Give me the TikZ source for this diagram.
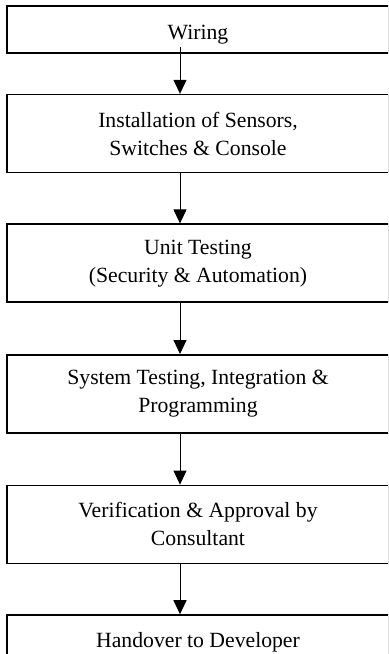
\documentclass[tikz,border=0pt]{standalone}
\usepackage{fontspec}
\setmainfont{Liberation Serif}
\usepackage{tikz}
\usetikzlibrary{arrows.meta, positioning}

\begin{document}
\begin{tikzpicture}[x=0.5pt, y=-0.5pt,
    stage/.style={draw, line width=0.8pt, minimum width=190.75pt, minimum height=23.5pt,
      align=center, font=\fontsize{10.85}{14}\selectfont,
      execute at begin node={\rule{0pt}{12pt}}},
    twoline/.style={stage, minimum height=39pt},
    flow/.style={line width=0.5pt, -{Triangle[width=6.5pt, length=7pt]}}]
  \useasboundingbox (0,0) rectangle (388,654);
  \clip (0,0) rectangle (388,654);

  % process stages, top to bottom
  \node[stage] (wiring) at (198,29.5) {Wiring};
  \node[twoline, below=20pt of wiring] (install) {Installation of Sensors,\\ Switches \& Console};
  \node[twoline, below=25pt of install] (unittest) {Unit Testing\\ (Security \& Automation)};
  \node[twoline, below=25.5pt of unittest] (systest) {System Testing, Integration \&\\ Programming};
  \node[twoline, below=25.5pt of systest] (approval) {Verification \& Approval by\\ Consultant};
  \node[stage, minimum height=23.25pt, below=25pt of approval] (handover) {Handover to Developer};

  % arrows between the stages, a little left of centre
  \foreach \a/\b/\up in {wiring/install/3.5, install/unittest/0, unittest/systest/0,
                         systest/approval/0, approval/handover/0}
    \draw[flow] ([xshift=-9pt, yshift=\up pt]\a.south) -- ([xshift=-9pt]\b.north);
\end{tikzpicture}
\end{document}
